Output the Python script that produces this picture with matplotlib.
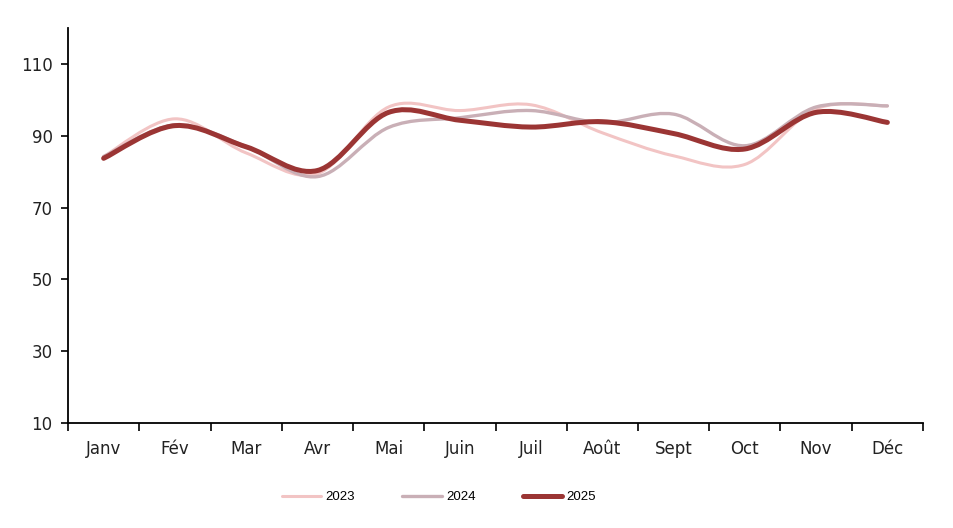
import matplotlib.pyplot as plt
from matplotlib.path import Path
from matplotlib.patches import PathPatch
from matplotlib.lines import Line2D

mois = ['Janv', 'Fév', 'Mar', 'Avr', 'Mai', 'Juin', 'Juil', 'Août', 'Sept', 'Oct', 'Nov', 'Déc']
v2023 = [84.2, 94.7, 85.2, 79.4, 98.0, 97.0, 98.6, 90.8, 84.4, 82.0, 97.5, 98.3]
v2024 = [84.2, 93.0, 87.0, 78.6, 92.3, 95.0, 97.0, 93.6, 96.0, 87.2, 98.0, 98.3]
v2025 = [83.7, 92.8, 86.9, 80.3, 96.5, 94.3, 92.4, 93.9, 90.6, 86.3, 96.5, 93.7]

series = [('2023', v2023, '#F2C4C4', 2.2),
          ('2024', v2024, '#C9AFB6', 2.4),
          ('2025', v2025, '#9B3534', 3.6)]


def smooth_path(xs, ys):
    # courbe lissée façon Excel (Bézier cubique)
    pts = list(zip(xs, ys))
    n = len(pts)
    verts = [pts[0]]
    codes = [Path.MOVETO]
    for i in range(n - 1):
        p0 = pts[i - 1] if i > 0 else pts[i]
        p1 = pts[i]
        p2 = pts[i + 1]
        p3 = pts[i + 2] if i + 2 < n else pts[i + 1]
        c1 = (p1[0] + (p2[0] - p0[0]) / 6, p1[1] + (p2[1] - p0[1]) / 6)
        c2 = (p2[0] - (p3[0] - p1[0]) / 6, p2[1] - (p3[1] - p1[1]) / 6)
        verts += [c1, c2, p2]
        codes += [Path.CURVE4] * 3
    return Path(verts, codes)


fig = plt.figure(figsize=(9.54, 5.28), dpi=100)
ax = fig.add_axes([0.0713, 0.199, 0.8962, 0.748])

xs = [i + 0.5 for i in range(len(mois))]
handles = []
for nom, vals, col, lw in series:
    patch = PathPatch(smooth_path(xs, vals), facecolor='none', edgecolor=col,
                      lw=lw, capstyle='round', joinstyle='round')
    ax.add_patch(patch)
    handles.append(Line2D([], [], color=col, lw=lw, solid_capstyle='round', label=nom))

ax.set_xlim(0, 12)
ax.set_ylim(10, 120)
ax.set_yticks([10, 30, 50, 70, 90, 110])
ax.set_xticks(xs)
ax.set_xticklabels(mois)
ax.set_xticks(range(13), minor=True)
ax.tick_params(axis='x', which='major', length=0, pad=12, labelsize=12)
ax.tick_params(axis='x', which='minor', length=6, width=1.2, direction='out')
ax.tick_params(axis='y', length=5, width=1.2, direction='out', labelsize=12, pad=6)

for s in ['top', 'right']:
    ax.spines[s].set_visible(False)
for s in ['left', 'bottom']:
    ax.spines[s].set_linewidth(1.3)

for lab in ax.get_xticklabels() + ax.get_yticklabels():
    lab.set_color('#222222')

fig.legend(handles=handles, loc='center', bbox_to_anchor=(0.46, 0.058), ncol=3,
           frameon=False, handlelength=3.0, handletextpad=0.3,
           columnspacing=3.6, prop={'family': 'Liberation Sans', 'size': 9.5})

plt.savefig('out.png', dpi=100)
